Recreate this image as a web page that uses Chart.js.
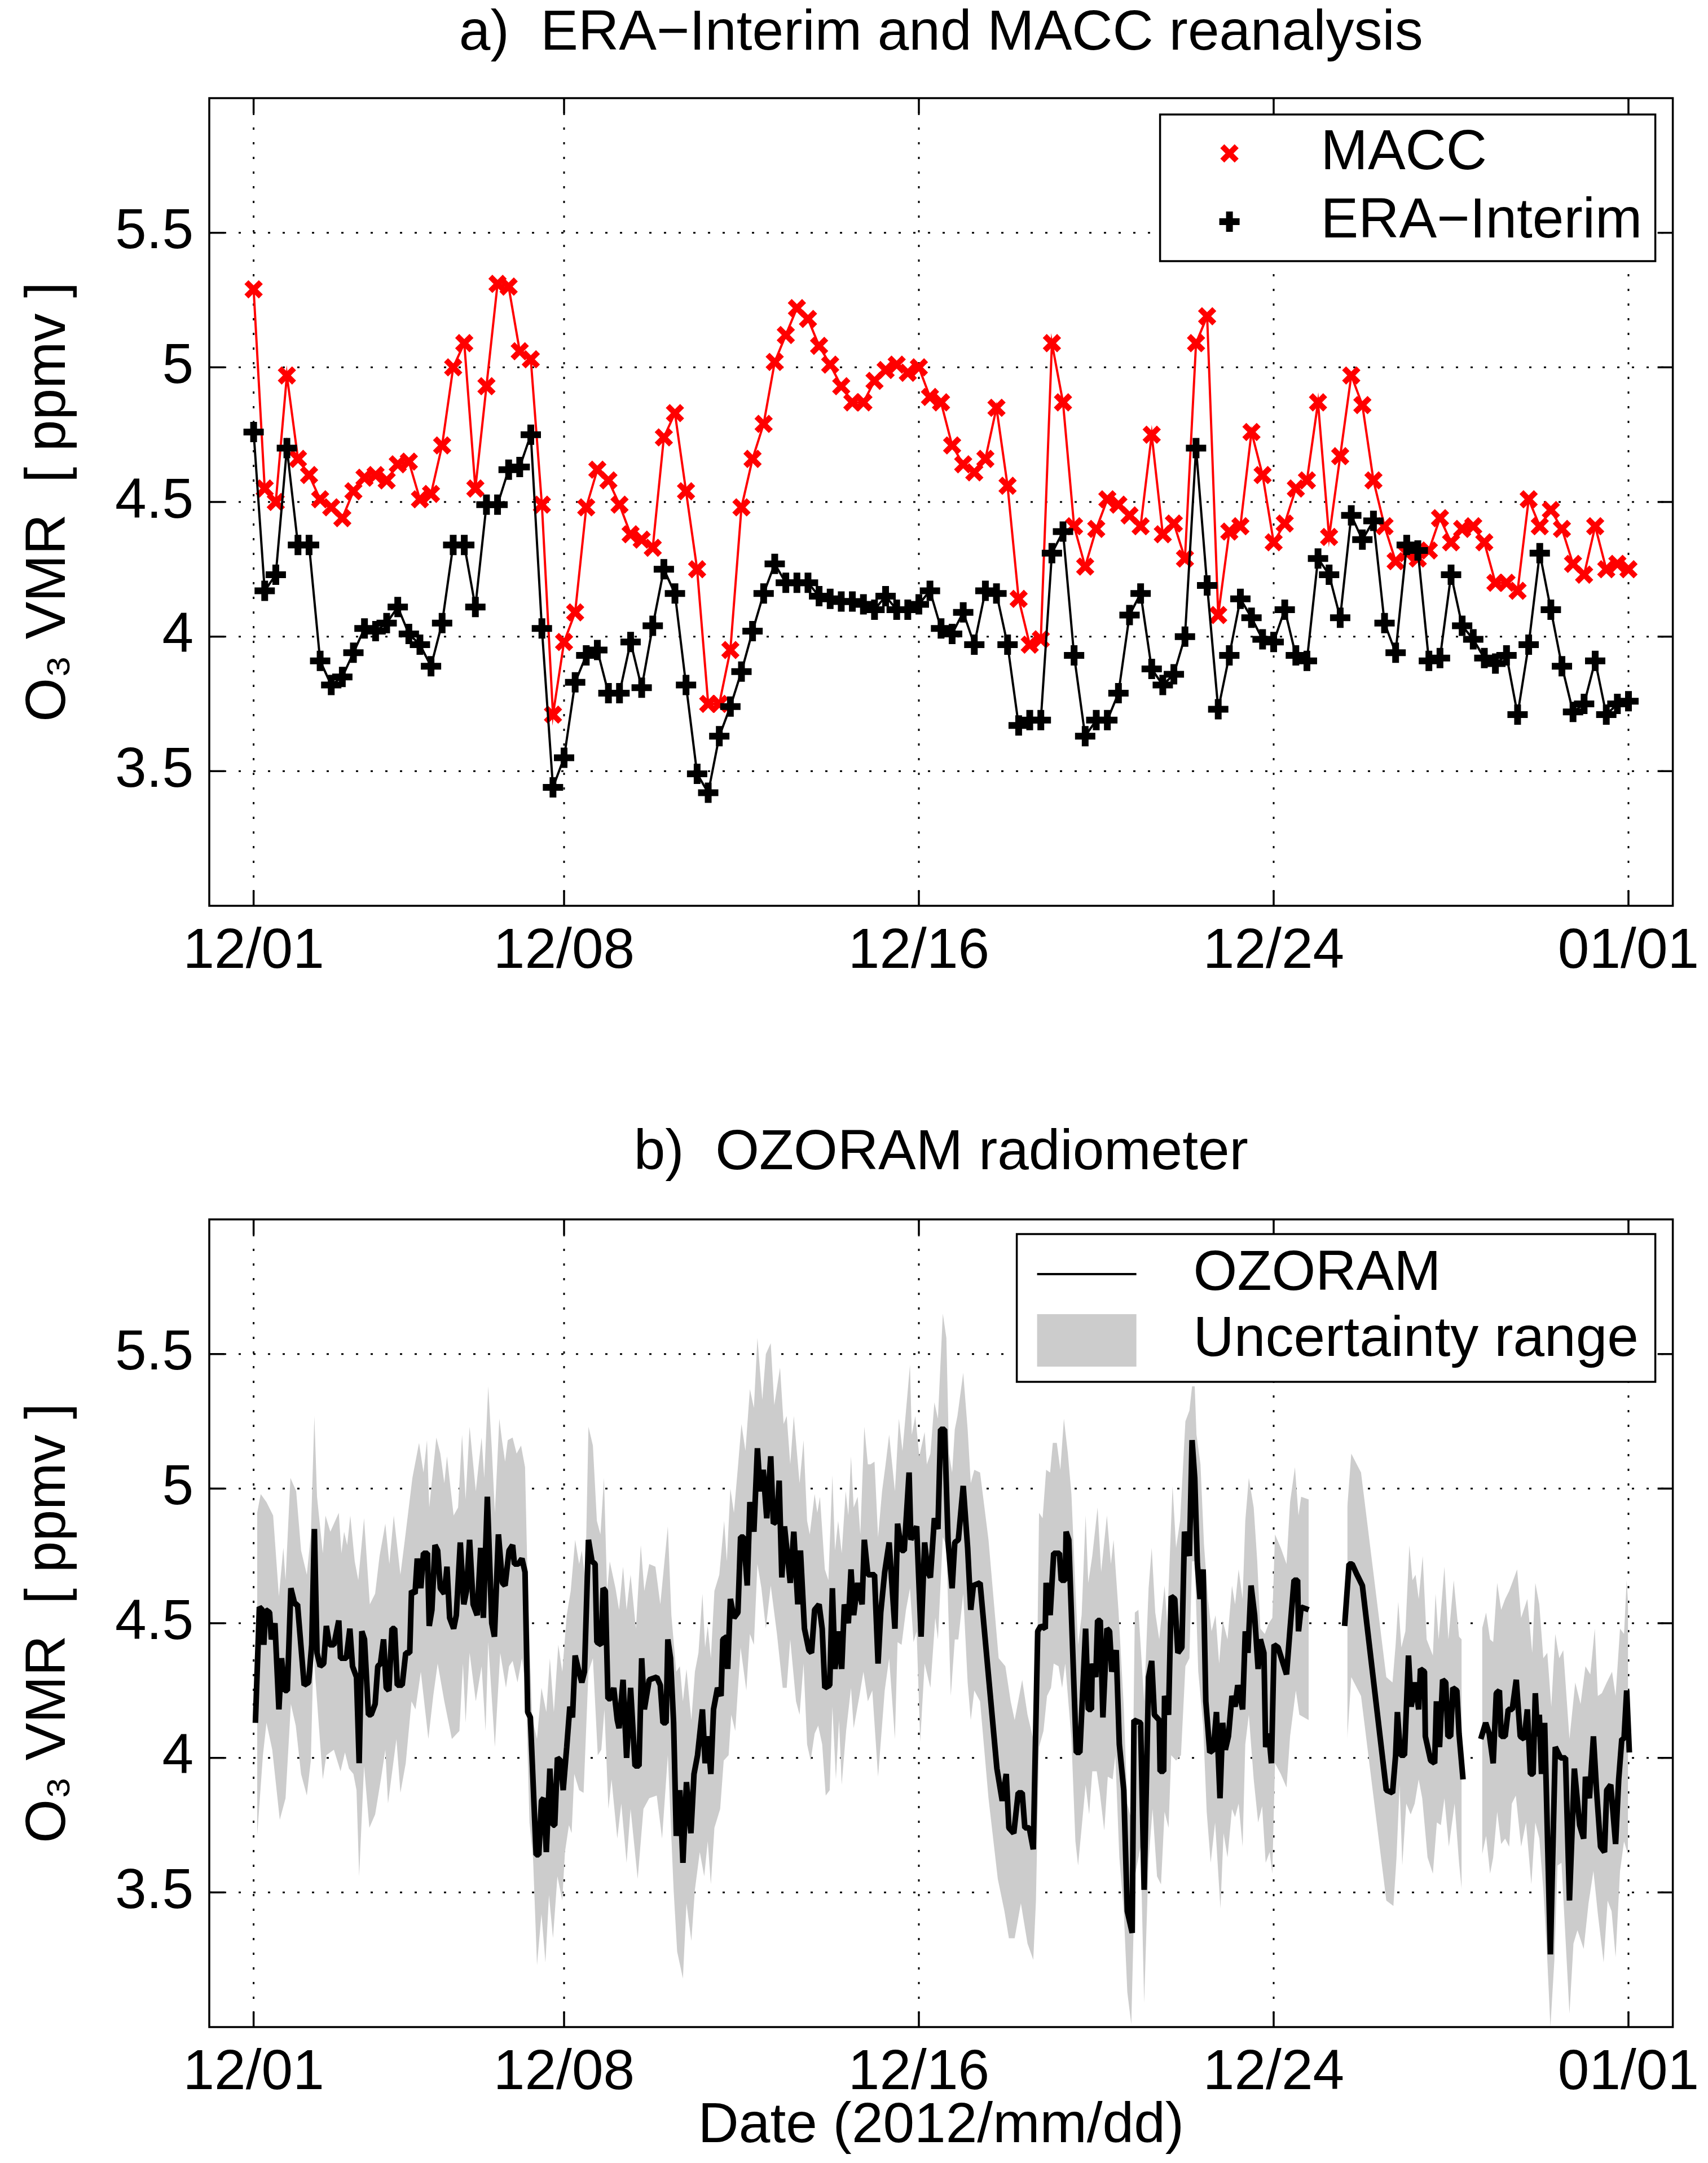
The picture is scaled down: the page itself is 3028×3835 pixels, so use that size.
<!DOCTYPE html>
<html><head><meta charset="utf-8">
<script src="https://cdn.jsdelivr.net/npm/chart.js@4.4.1/dist/chart.umd.min.js"></script>
<style>
html,body{margin:0;padding:0;background:#fff;}
#wrap{position:relative;width:3028px;height:3835px;background:#fff;overflow:hidden;}
canvas{position:absolute;left:0;}
</style></head><body>
<div id="wrap">
<canvas id="topChart" width="3028" height="1900" style="top:0px"></canvas>
<canvas id="botChart" width="3028" height="1935" style="top:1900px"></canvas>
</div>
<script>
// ---------- tick labels ----------
const xTickValues = [0, 7, 15, 23, 31];
const xTickLabels = ['12/01', '12/08', '12/16', '12/24', '01/01'];
const yTickValues = [3.5, 4, 4.5, 5, 5.5];
const yAxisTitle = 'O\u2083 VMR  [ ppmv ]';
const xAxisTitle = 'Date (2012/mm/dd)';
const titleTop = 'a)  ERA\u2212Interim and MACC reanalysis';
const titleBottom = 'b)  OZORAM radiometer';

// ---------- reanalysis (6-hourly, days since 2012-12-01) ----------
const reanalysisTime = [
 0,0.25,0.5,0.75, 1,1.25,1.5,1.75, 2,2.25,2.5,2.75, 3,3.25,3.5,3.75,
 4,4.25,4.5,4.75, 5,5.25,5.5,5.75, 6,6.25,6.5,6.75, 7,7.25,7.5,7.75,
 8,8.25,8.5,8.75, 9,9.25,9.5,9.75, 10,10.25,10.5,10.75, 11,11.25,11.5,11.75,
 12,12.25,12.5,12.75, 13,13.25,13.5,13.75, 14,14.25,14.5,14.75, 15,15.25,15.5,15.75,
 16,16.25,16.5,16.75, 17,17.25,17.5,17.75, 18,18.25,18.5,18.75, 19,19.25,19.5,19.75,
 20,20.25,20.5,20.75, 21,21.25,21.5,21.75, 22,22.25,22.5,22.75, 23,23.25,23.5,23.75,
 24,24.25,24.5,24.75, 25,25.25,25.5,25.75, 26,26.25,26.5,26.75, 27,27.25,27.5,27.75,
 28,28.25,28.5,28.75, 29,29.25,29.5,29.75, 30,30.25,30.5,30.75, 31
];
const maccValues = [
 5.29,4.55,4.50,4.97, 4.66,4.60,4.51,4.48, 4.44,4.54,4.59,4.60, 4.58,4.64,4.65,4.51,
 4.53,4.71,5.00,5.09, 4.55,4.93,5.31,5.30, 5.06,5.03,4.49,3.71, 3.98,4.09,4.48,4.62,
 4.58,4.49,4.38,4.36, 4.33,4.74,4.83,4.54, 4.25,3.75,3.75,3.95, 4.48,4.66,4.79,5.02,
 5.12,5.22,5.18,5.08, 5.01,4.93,4.87,4.87, 4.95,4.99,5.01,4.98, 5.00,4.89,4.87,4.71,
 4.64,4.61,4.66,4.85, 4.56,4.14,3.97,3.99, 5.09,4.87,4.41,4.26, 4.40,4.51,4.49,4.45,
 4.41,4.75,4.38,4.42, 4.29,5.09,5.19,4.08, 4.39,4.41,4.76,4.60, 4.35,4.42,4.55,4.58,
 4.87,4.37,4.67,4.97, 4.86,4.58,4.41,4.28, 4.31,4.29,4.32,4.44, 4.35,4.40,4.41,4.35,
 4.20,4.20,4.17,4.51, 4.41,4.47,4.40,4.27, 4.23,4.41,4.25,4.27, 4.25
];
const eraValues = [
 4.76,4.17,4.23,4.70, 4.34,4.34,3.91,3.82, 3.85,3.94,4.03,4.02, 4.05,4.11,4.01,3.97,
 3.89,4.05,4.34,4.34, 4.11,4.49,4.49,4.62, 4.63,4.75,4.03,3.44, 3.55,3.83,3.93,3.95,
 3.79,3.79,3.98,3.81, 4.04,4.25,4.16,3.82, 3.49,3.42,3.63,3.74, 3.87,4.02,4.16,4.27,
 4.20,4.20,4.20,4.15, 4.14,4.13,4.13,4.12, 4.10,4.15,4.10,4.10, 4.12,4.17,4.03,4.01,
 4.09,3.97,4.17,4.16, 3.97,3.67,3.69,3.69, 4.31,4.39,3.93,3.63, 3.69,3.69,3.79,4.08,
 4.16,3.88,3.82,3.86, 4.00,4.70,4.19,3.73, 3.93,4.14,4.07,3.99, 3.98,4.10,3.93,3.91,
 4.29,4.23,4.07,4.45, 4.36,4.43,4.05,3.94, 4.34,4.32,3.91,3.92, 4.23,4.04,3.99,3.92,
 3.90,3.93,3.71,3.97, 4.31,4.10,3.89,3.72, 3.75,3.91,3.71,3.75, 3.76
];

// ---------- OZORAM radiometer (days since 2012-12-01; null = no data) ----------
const ozTime = [
 0.04,0.13,0.19,0.23,0.27,0.36,0.40,0.48,0.57,0.63,
 0.70,0.76,0.84,0.93,0.99,1.14,1.24,1.31,1.37,1.43,
 1.50,1.58,1.64,1.71,1.81,1.92,1.96,2.09,2.17,2.23,
 2.32,2.38,2.44,2.50,2.59,2.65,2.74,2.80,2.86,2.93,
 2.99,3.05,3.12,3.18,3.24,3.35,3.43,3.52,3.56,3.64,
 3.69,3.77,3.83,3.92,3.96,4.02,4.09,4.15,4.21,4.30,
 4.36,4.42,4.51,4.57,4.66,4.74,4.80,4.87,4.95,5.04,
 5.12,5.18,5.27,5.37,5.43,5.52,5.61,5.67,5.76,5.84,
 5.88,5.97,6.05,6.12,6.18,6.24,6.37,6.43,6.49,6.54,
 6.60,6.68,6.75,6.79,6.85,6.92,6.98,7.06,7.13,7.19,
 7.25,7.32,7.40,7.46,7.55,7.63,7.70,7.74,7.84,7.88,
 7.93,7.99,8.05,8.12,8.20,8.24,8.33,8.41,8.50,8.60,
 8.69,8.75,8.81,8.92,9.09,9.17,9.23,9.30,9.34,9.40,
 9.47,9.53,9.61,9.68,9.76,9.86,9.93,10.01,10.12,10.18,
 10.24,10.31,10.37,10.46,10.54,10.58,10.67,10.69,10.75,10.83,
 10.92,10.98,11.05,11.13,11.19,11.28,11.36,11.42,11.49,11.57,
 11.66,11.72,11.80,11.85,11.91,11.97,12.10,12.18,12.27,12.33,
 12.42,12.52,12.58,12.65,12.75,12.82,12.88,12.99,13.05,13.11,
 13.18,13.26,13.32,13.41,13.47,13.53,13.62,13.72,13.77,13.85,
 13.93,14.00,14.08,14.14,14.23,14.33,14.46,14.52,14.61,14.67,
 14.78,14.82,14.95,15.05,15.13,15.20,15.26,15.35,15.43,15.49,
 15.58,15.66,15.75,15.81,15.89,16.00,16.10,16.17,16.23,16.38,
 16.76,16.88,16.97,17.03,17.14,17.24,17.33,17.39,17.49,17.58,
 17.68,17.75,17.85,17.87,17.96,18.04,18.17,18.21,18.30,18.32,
 18.38,18.55,18.63,18.76,18.82,18.89,18.91,18.99,19.03,19.09,
 19.15,19.24,19.30,19.35,19.45,19.52,19.62,19.70,19.81,19.85,
 20.00,20.08,20.18,20.25,20.31,20.42,20.44,20.52,20.54,20.63,
 20.69,20.77,20.84,20.93,20.99,21.10,21.16,21.22,21.28,21.34,
 21.41,21.47,21.56,21.64,21.71,21.79,21.85,21.91,21.98,22.06,
 22.13,22.19,22.30,22.36,22.42,22.49,22.57,22.65,22.70,22.78,
 22.82,22.89,22.95,23.01,23.10,23.29,23.37,23.46,23.54,23.56,
 23.62,23.79,24.20,24.60,24.70,24.77,24.88,25.00,25.54,25.68,
 25.75,25.79,25.86,25.95,26.04,26.10,26.19,26.27,26.31,26.40,
 26.42,26.54,26.63,26.67,26.74,26.81,26.88,26.93,26.99,27.04,
 27.13,27.18,27.27,27.45,27.67,27.78,27.86,27.95,28.02,28.09,
 28.13,28.22,28.29,28.38,28.47,28.56,28.65,28.72,28.79,28.85,
 28.90,28.95,28.99,29.04,29.11,29.24,29.35,29.47,29.58,29.67,
 29.78,29.90,29.99,30.03,30.12,30.21,30.28,30.37,30.46,30.51,
 30.60,30.71,30.78,30.85,30.90,30.96,31.02
];
const ozVmr = [
 4.13,4.56,4.55,4.42,4.55,4.54,4.44,4.50,4.18,4.37,
 4.25,4.25,4.63,4.57,4.57,4.27,4.28,4.42,4.85,4.39,
 4.34,4.35,4.49,4.42,4.42,4.51,4.37,4.37,4.48,4.34,
 4.30,3.98,4.47,4.44,4.16,4.16,4.20,4.34,4.35,4.44,
 4.26,4.25,4.48,4.48,4.27,4.27,4.39,4.39,4.62,4.61,
 4.74,4.63,4.76,4.76,4.49,4.55,4.79,4.77,4.63,4.61,
 4.71,4.52,4.48,4.53,4.80,4.57,4.62,4.81,4.57,4.53,
 4.78,4.52,4.97,4.50,4.45,4.83,4.65,4.64,4.77,4.79,
 4.72,4.72,4.74,4.69,4.17,4.15,3.64,3.64,3.84,3.85,
 3.65,3.96,3.75,3.75,4.00,3.99,3.88,4.04,4.19,4.15,
 4.38,4.33,4.28,4.32,4.81,4.73,4.72,4.43,4.42,4.63,
 4.62,4.22,4.22,4.26,4.14,4.11,4.29,4.00,4.26,3.97,
 3.97,4.37,4.18,4.29,4.30,4.27,4.13,4.13,4.44,4.37,
 4.13,3.71,3.88,3.61,3.91,3.72,3.94,4.01,4.18,3.98,
 4.08,3.94,4.18,4.26,4.23,4.44,4.45,4.33,4.59,4.52,
 4.54,4.82,4.82,4.64,4.95,4.84,5.15,4.99,5.07,4.89,
 5.12,4.87,4.88,5.03,4.67,4.86,4.65,4.84,4.57,4.77,
 4.48,4.40,4.39,4.55,4.57,4.48,4.26,4.27,4.63,4.33,
 4.47,4.33,4.57,4.50,4.70,4.53,4.65,4.57,4.81,4.68,
 4.68,4.68,4.35,4.54,4.69,4.80,4.48,4.87,4.77,4.77,
 5.06,4.81,4.86,4.45,4.80,4.69,4.67,4.89,4.85,5.22,
 5.22,4.80,4.63,4.80,4.81,5.01,4.78,4.55,4.64,4.65,
 3.96,3.84,3.94,3.74,3.72,3.87,3.87,3.74,3.74,3.66,
 4.47,4.49,4.48,4.65,4.53,4.76,4.76,4.66,4.66,4.84,
 4.81,4.02,4.02,4.48,4.18,4.18,4.35,4.30,4.51,4.51,
 4.15,4.48,4.47,4.32,4.40,4.05,3.88,3.43,3.35,4.14,
 4.13,3.51,4.30,4.36,4.16,4.14,3.95,3.95,4.23,4.16,
 4.60,4.59,4.39,4.41,4.84,4.75,5.18,5.04,4.72,4.59,
 4.70,4.21,4.02,4.03,4.17,3.85,4.13,4.03,4.08,4.23,
 4.19,4.27,4.18,4.47,4.39,4.64,4.53,4.33,4.44,4.39,
 4.04,4.09,3.98,4.42,4.41,4.31,4.48,4.66,4.66,4.47,
 4.56,4.55,null,4.49,4.72,4.72,4.68,4.64,3.88,3.87,
 4.01,4.17,4.01,4.01,4.38,4.19,4.28,4.18,4.33,4.32,
 4.08,3.99,3.98,4.21,4.04,4.29,4.28,4.08,4.08,4.26,
 4.25,4.09,3.92,null,4.07,4.13,4.09,3.98,4.24,4.25,
 4.08,4.08,4.18,4.18,4.29,4.08,4.07,4.18,3.94,3.94,
 4.24,4.08,4.16,3.94,4.13,3.27,4.04,4.00,4.00,3.47,
 3.96,3.75,3.70,3.93,3.85,4.08,3.88,3.67,3.65,3.88,
 3.90,3.68,3.92,4.07,4.07,4.25,4.02
];
const bandHighTime = [
 0.08,0.16,0.29,0.44,0.57,0.67,0.72,0.83,0.96,1.07,
 1.20,1.29,1.37,1.43,1.56,1.62,1.73,1.92,1.98,2.04,
 2.11,2.18,2.28,2.36,2.49,2.62,2.74,2.84,2.97,3.06,
 3.16,3.31,3.41,3.58,3.73,3.83,3.91,3.96,4.12,4.21,
 4.30,4.36,4.51,4.61,4.70,4.78,4.87,5.01,5.14,5.20,
 5.29,5.37,5.44,5.54,5.60,5.67,5.73,5.84,5.93,6.03,
 6.12,6.18,6.28,6.39,6.49,6.60,6.68,6.77,6.87,6.96,
 7.06,7.15,7.25,7.34,7.40,7.48,7.55,7.65,7.74,7.82,
 7.90,7.97,8.03,8.16,8.24,8.33,8.41,8.50,8.62,8.73,
 8.81,8.92,9.06,9.17,9.34,9.42,9.53,9.61,9.68,9.76,
 9.87,9.95,10.03,10.12,10.18,10.24,10.31,10.39,10.50,10.61,
 10.67,10.75,10.83,10.92,11.00,11.09,11.19,11.28,11.36,11.47,
 11.55,11.66,11.74,11.87,11.95,12.02,12.10,12.18,12.31,12.40,
 12.48,12.54,12.65,12.71,12.77,12.88,12.96,13.05,13.11,13.18,
 13.26,13.35,13.41,13.47,13.53,13.62,13.68,13.77,13.85,13.91,
 14.00,14.08,14.17,14.25,14.33,14.46,14.55,14.63,14.71,14.80,
 14.84,14.92,15.01,15.13,15.18,15.26,15.35,15.43,15.54,15.62,
 15.68,15.75,15.81,15.87,16.00,16.10,16.17,16.25,16.38,16.57,
 16.80,16.95,17.07,17.16,17.33,17.45,17.58,17.64,17.71,17.79,
 17.87,17.96,18.02,18.11,18.19,18.27,18.36,18.44,18.53,18.59,
 18.67,18.76,18.82,18.91,19.03,19.11,19.24,19.33,19.39,19.50,
 19.62,19.70,19.81,19.87,19.95,20.08,20.18,20.25,20.33,20.42,
 20.54,20.60,20.72,20.80,20.89,21.01,21.10,21.16,21.22,21.26,
 21.35,21.43,21.52,21.60,21.69,21.77,21.85,21.96,22.06,22.13,
 22.21,22.30,22.36,22.44,22.55,22.63,22.70,22.80,22.89,22.97,
 23.03,23.16,23.29,23.37,23.48,23.56,23.62,23.79,24.20,24.66,
 24.75,24.97,25.54,25.68,25.75,25.81,25.88,25.97,26.06,26.13,
 26.20,26.27,26.36,26.45,26.59,26.65,26.72,26.85,26.94,27.06,
 27.18,27.24,27.45,27.70,27.79,27.88,27.95,28.04,28.13,28.22,
 28.31,28.40,28.49,28.58,28.72,28.83,28.90,28.99,29.08,29.17,
 29.26,29.35,29.44,29.53,29.67,29.80,29.92,30.03,30.14,30.24,
 30.31,30.40,30.51,30.63,30.71,30.81,30.90,30.96,31.01
];
const bandHighVmr = [
 4.91,4.98,4.95,4.90,4.60,4.78,4.66,5.04,4.99,4.77,
 4.68,4.83,5.27,4.97,4.76,4.90,4.84,4.91,4.76,4.84,
 4.79,4.90,4.73,4.66,4.89,4.57,4.61,4.75,4.87,4.72,
 4.90,4.68,4.81,5.04,5.17,5.06,5.18,4.93,5.19,5.13,
 5.02,5.12,4.90,4.93,5.20,4.96,5.23,4.99,5.19,5.04,
 5.38,5.15,4.91,5.26,5.18,5.10,5.18,5.19,5.13,5.16,
 5.08,4.64,4.15,4.07,4.26,4.17,4.37,4.17,4.42,4.32,
 4.53,4.62,4.81,4.72,4.77,4.66,5.23,5.16,4.88,4.83,
 5.04,4.62,4.73,4.63,4.55,4.71,4.55,4.68,4.48,4.79,
 4.62,4.72,4.71,4.57,4.86,4.53,4.32,4.34,4.21,4.33,
 4.14,4.32,4.39,4.61,4.41,4.49,4.37,4.62,4.68,4.88,
 4.73,5.00,4.91,5.08,5.24,5.14,5.37,5.30,5.56,5.33,
 5.50,5.54,5.31,5.45,5.24,5.27,5.09,5.27,5.02,5.18,
 4.88,4.83,4.98,4.91,4.97,4.70,4.66,5.05,4.77,4.88,
 4.76,4.99,4.90,5.12,4.93,4.97,4.83,5.23,5.09,5.09,
 5.10,4.82,4.99,5.09,5.20,4.99,5.26,5.14,5.29,5.46,
 5.20,5.27,5.12,5.21,5.09,5.13,5.32,5.26,5.65,5.56,
 5.13,5.06,5.22,5.27,5.43,5.22,5.02,5.07,5.06,4.81,
 4.37,4.34,4.21,4.14,4.29,4.16,4.07,4.00,4.91,4.89,
 5.07,5.06,5.17,5.17,5.07,5.26,5.13,4.98,4.63,4.42,
 4.53,4.90,4.65,4.75,4.93,4.69,4.90,4.72,4.81,4.55,
 4.19,3.83,3.76,4.54,4.55,4.21,4.63,4.78,4.54,4.44,
 4.64,4.50,5.01,4.78,4.88,5.25,5.29,5.38,5.38,5.20,
 5.09,4.79,4.59,4.47,4.53,4.35,4.51,4.44,4.64,4.57,
 4.70,4.59,4.88,5.04,4.93,4.73,4.48,4.46,4.50,4.52,
 4.83,4.78,4.72,4.95,5.08,4.90,4.97,4.96,null,4.93,
 5.13,5.06,4.30,4.28,4.42,4.58,4.41,4.47,4.79,4.66,
 4.68,4.59,4.75,4.44,4.38,4.61,4.44,4.71,4.44,4.66,
 4.45,4.44,null,4.48,4.54,4.44,4.43,4.65,4.55,4.59,
 4.62,4.66,4.70,4.52,4.59,4.39,4.65,4.57,4.37,4.39,
 4.19,4.46,4.37,4.40,4.07,4.28,4.20,4.34,4.31,4.48,
 4.23,4.24,4.28,4.32,4.23,4.48,4.46,4.66,4.52
];
const bandLowTime = [
 0.08,0.21,0.29,0.42,0.59,0.72,0.84,0.95,1.07,1.20,
 1.29,1.35,1.56,1.64,1.81,1.96,2.06,2.15,2.25,2.32,
 2.38,2.49,2.61,2.74,2.87,2.97,3.03,3.22,3.31,3.43,
 3.56,3.65,3.77,3.94,4.05,4.15,4.30,4.47,4.64,4.72,
 4.78,4.87,5.01,5.14,5.23,5.29,5.44,5.56,5.69,5.76,
 5.84,5.95,6.05,6.14,6.22,6.30,6.39,6.49,6.58,6.66,
 6.75,6.85,6.96,7.02,7.11,7.17,7.23,7.34,7.44,7.55,
 7.65,7.76,7.84,7.91,8.00,8.07,8.20,8.29,8.41,8.50,
 8.66,8.79,8.92,9.09,9.21,9.34,9.47,9.55,9.68,9.76,
 9.87,9.95,10.06,10.16,10.24,10.31,10.39,10.52,10.60,10.71,
 10.77,10.86,10.98,11.11,11.19,11.28,11.36,11.45,11.55,11.66,
 11.80,11.93,12.02,12.10,12.23,12.31,12.40,12.48,12.56,12.65,
 12.73,12.82,12.90,12.99,13.05,13.13,13.20,13.26,13.36,13.47,
 13.53,13.66,13.75,13.85,13.95,14.08,14.17,14.23,14.33,14.46,
 14.52,14.61,14.71,14.80,14.88,14.95,15.03,15.13,15.26,15.37,
 15.43,15.54,15.62,15.72,15.81,15.89,16.00,16.10,16.17,16.25,
 16.38,16.57,16.78,16.93,17.03,17.16,17.30,17.45,17.58,17.64,
 17.71,17.81,17.89,17.98,18.04,18.15,18.23,18.30,18.36,18.44,
 18.53,18.59,18.67,18.76,18.84,18.91,19.01,19.08,19.18,19.26,
 19.37,19.43,19.52,19.62,19.70,19.79,19.87,20.00,20.08,20.18,
 20.27,20.37,20.46,20.54,20.63,20.69,20.80,20.91,21.01,21.10,
 21.16,21.22,21.30,21.41,21.49,21.58,21.68,21.80,21.87,21.96,
 22.06,22.13,22.21,22.30,22.36,22.44,22.55,22.65,22.74,22.82,
 22.91,22.97,23.03,23.16,23.29,23.37,23.50,23.58,23.79,24.20,
 24.66,24.75,24.97,25.54,25.70,25.77,25.84,25.90,25.99,26.09,
 26.18,26.27,26.35,26.47,26.59,26.68,26.77,26.85,26.95,27.08,
 27.18,27.24,27.45,27.70,27.79,27.88,27.95,28.04,28.13,28.22,
 28.31,28.37,28.46,28.58,28.69,28.81,28.90,28.99,29.08,29.17,
 29.24,29.33,29.40,29.49,29.58,29.67,29.76,29.85,29.99,30.10,
 30.21,30.31,30.44,30.53,30.62,30.71,30.81,30.90,30.99
];
const bandLowVmr = [
 3.71,4.01,4.13,4.03,3.77,3.85,4.20,4.12,3.94,3.86,
 3.99,4.39,3.92,4.01,4.03,3.95,4.02,3.96,3.94,3.88,
 3.56,3.97,3.74,3.79,3.92,4.03,3.83,4.07,3.87,3.98,
 4.21,4.18,4.32,4.07,4.23,4.35,4.21,4.07,4.10,4.35,
 4.13,4.39,4.21,4.34,4.10,4.43,4.04,4.39,4.26,4.34,
 4.36,4.28,4.37,4.26,3.76,3.63,3.23,3.42,3.24,3.49,
 3.33,3.56,3.47,3.65,3.75,3.72,3.94,3.88,3.87,4.32,
 4.37,4.01,4.03,4.18,3.81,3.92,3.70,3.83,3.61,3.81,
 3.55,3.81,3.85,3.86,3.70,4.01,3.51,3.28,3.18,3.46,
 3.32,3.51,3.65,3.56,3.69,3.53,3.74,3.81,3.99,4.01,
 4.16,4.10,4.41,4.25,4.46,4.42,4.72,4.63,4.48,4.64,
 4.46,4.26,4.26,4.44,4.21,4.16,4.35,4.05,3.99,4.09,
 4.12,4.05,3.86,3.88,4.19,3.92,4.14,3.90,4.10,4.26,
 4.11,4.23,4.32,4.21,4.25,3.93,4.12,4.25,4.37,4.07,
 4.43,4.42,4.55,4.63,4.43,4.47,4.06,4.35,4.26,4.52,
 4.44,4.82,4.79,4.23,4.44,4.44,4.61,4.28,4.14,4.25,
 4.21,3.85,3.55,3.43,3.33,3.33,3.46,3.31,3.25,3.47,
 4.04,4.10,4.23,4.26,4.35,4.34,4.26,4.35,4.23,4.07,
 3.69,3.60,3.74,3.90,3.79,3.95,3.95,3.87,3.73,3.93,
 3.92,4.01,3.63,3.43,3.13,3.01,3.56,3.67,3.09,3.62,
 3.81,3.56,3.53,3.80,3.74,4.01,3.99,4.01,4.34,4.37,
 4.73,4.73,4.32,4.12,3.80,3.61,3.76,3.44,3.72,3.63,
 3.81,3.78,3.83,3.67,4.05,4.16,3.92,3.76,3.82,3.61,
 3.65,3.57,3.98,3.94,3.89,4.08,4.25,4.16,4.14,null,
 4.07,4.30,4.23,3.47,3.45,3.63,3.90,3.60,3.83,3.79,
 3.83,3.92,3.85,3.63,3.57,3.76,3.75,3.85,3.67,3.83,
 3.61,3.51,null,3.64,3.71,3.57,3.63,3.80,3.68,3.70,
 3.67,3.83,3.86,3.67,3.76,3.53,3.76,3.70,3.51,3.25,
 3.00,3.25,3.60,3.61,3.33,3.05,3.31,3.36,3.29,3.46,
 3.58,3.42,3.24,3.47,3.43,3.26,3.58,3.69,3.64
];

// ---------- helpers ----------
const pts = (xs, ys) => xs.map((x, i) => ({ x: x, y: ys[i] }));
const FONT = "'Liberation Sans', Arial, Helvetica, sans-serif";
Chart.defaults.font.family = FONT;
Chart.defaults.font.size = 100;
Chart.defaults.color = '#000';

function xScaleCfg(height, withTitle) {
  return {
    type: 'linear', min: -1, max: 32,
    afterBuildTicks: s => { s.ticks = xTickValues.map(v => ({ value: v })); },
    ticks: { callback: (v, i) => xTickLabels[i], padding: 14, maxRotation: 0, minRotation: 0, autoSkip: false, color: '#000', font: { size: 100 } },
    grid: { display: false }, border: { display: false },
    title: withTitle ? { display: true, text: xAxisTitle, color: '#000', font: { size: 100 }, padding: { top: 0, bottom: 5 } } : { display: false },
    afterFit: s => { s.height = height; }
  };
}
function yScaleCfg() {
  return {
    type: 'linear', min: 3, max: 6,
    afterBuildTicks: s => { s.ticks = yTickValues.map(v => ({ value: v })); },
    ticks: { callback: v => String(v), padding: 20, autoSkip: false, color: '#000', font: { size: 100 } },
    grid: { display: false }, border: { display: false },
    title: { display: true, text: yAxisTitle, color: '#000', font: { size: 100 }, padding: { top: 27, bottom: 0 } },
    afterFit: s => { s.width = 371; }
  };
}

const gridPlugin = {
  id: 'dottedGrid',
  beforeDatasetsDraw(chart) {
    const { ctx, chartArea: a, scales: { x, y } } = chart;
    ctx.save();
    ctx.strokeStyle = '#000'; ctx.lineWidth = 3; ctx.setLineDash([4, 22]);
    xTickValues.forEach(v => { const p = x.getPixelForValue(v); ctx.beginPath(); ctx.moveTo(p, a.top); ctx.lineTo(p, a.bottom); ctx.stroke(); });
    yTickValues.forEach(v => { const p = y.getPixelForValue(v); ctx.beginPath(); ctx.moveTo(a.left, p); ctx.lineTo(a.right, p); ctx.stroke(); });
    ctx.restore();
  }
};
const framePlugin = {
  id: 'axesBox',
  afterDatasetsDraw(chart) {
    const { ctx, chartArea: a, scales: { x, y } } = chart;
    const tl = 27;
    ctx.save();
    ctx.strokeStyle = '#000'; ctx.lineWidth = 3.5; ctx.setLineDash([]);
    ctx.strokeRect(a.left, a.top, a.right - a.left, a.bottom - a.top);
    ctx.beginPath();
    xTickValues.forEach(v => { const p = x.getPixelForValue(v);
      ctx.moveTo(p, a.bottom); ctx.lineTo(p, a.bottom - tl);
      ctx.moveTo(p, a.top); ctx.lineTo(p, a.top + tl); });
    yTickValues.forEach(v => { const p = y.getPixelForValue(v);
      ctx.moveTo(a.left, p); ctx.lineTo(a.left + tl, p);
      ctx.moveTo(a.right, p); ctx.lineTo(a.right - tl, p); });
    ctx.stroke();
    ctx.restore();
  }
};
function legendPlugin(box, entries) {
  return {
    id: 'boxLegend',
    afterDraw(chart) {
      const { ctx, chartArea: a } = chart;
      const bx = a.right - box.dr, by = a.top + box.dt;
      ctx.save();
      ctx.fillStyle = '#fff'; ctx.fillRect(bx, by, box.w, box.h);
      ctx.strokeStyle = '#000'; ctx.lineWidth = 3.5; ctx.strokeRect(bx, by, box.w, box.h);
      entries.forEach(e => {
        const ds = chart.data.datasets[e.index];
        const cy = by + e.dy;
        if (e.kind === 'marker') {
          ctx.strokeStyle = ds.pointBorderColor; ctx.lineWidth = ds.pointBorderWidth;
          Chart.helpers.drawPoint(ctx, { pointStyle: ds.pointStyle, radius: ds.pointRadius, rotation: 0, borderWidth: ds.pointBorderWidth }, bx + box.mx, cy);
        } else if (e.kind === 'line') {
          ctx.strokeStyle = ds.borderColor; ctx.lineWidth = 4;
          ctx.beginPath(); ctx.moveTo(bx + box.sx0, cy); ctx.lineTo(bx + box.sx1, cy); ctx.stroke();
        } else {
          ctx.fillStyle = ds.backgroundColor;
          ctx.fillRect(bx + box.sx0, cy - 46, box.sx1 - box.sx0, 93);
        }
        ctx.fillStyle = '#000'; ctx.font = '100px ' + FONT;
        ctx.textAlign = 'left'; ctx.textBaseline = 'middle';
        ctx.fillText(ds.label, bx + box.tx, cy);
      });
      ctx.restore();
    }
  };
}

// ---------- top chart ----------
new Chart(document.getElementById('topChart'), {
  type: 'line',
  data: {
    datasets: [
      { label: 'ERA\u2212Interim', data: pts(reanalysisTime, eraValues), borderColor: '#000', borderWidth: 4,
        pointStyle: 'cross', pointRadius: 18, pointHoverRadius: 18, pointBorderWidth: 12, pointBorderColor: '#000', pointBackgroundColor: '#000', fill: false, tension: 0 },
      { label: 'MACC', data: pts(reanalysisTime, maccValues), borderColor: '#ff0000', borderWidth: 4,
        pointStyle: 'crossRot', pointRadius: 18, pointHoverRadius: 18, pointBorderWidth: 10, pointBorderColor: '#ff0000', pointBackgroundColor: '#ff0000', fill: false, tension: 0 }
    ]
  },
  options: {
    responsive: false, animation: false, devicePixelRatio: 1,
    layout: { padding: { left: 0, right: 54, top: 0, bottom: 0 } },
    scales: { x: xScaleCfg(294, false), y: yScaleCfg() },
    plugins: {
      legend: { display: false }, tooltip: { enabled: false },
      title: { display: true, text: titleTop, fullSize: false, color: '#000', font: { size: 100, weight: 'normal' }, padding: { top: 0, bottom: 54 } }
    }
  },
  plugins: [gridPlugin, framePlugin, legendPlugin(
    { dr: 909, dt: 29, w: 878, h: 260, mx: 123, tx: 285 },
    [ { index: 1, kind: 'marker', dy: 69 }, { index: 0, kind: 'marker', dy: 190 } ])]
});

// ---------- bottom chart ----------
new Chart(document.getElementById('botChart'), {
  type: 'line',
  data: {
    datasets: [
      { label: 'OZORAM', data: pts(ozTime, ozVmr), borderColor: '#000', borderWidth: 10, borderJoinStyle: 'bevel',
        pointRadius: 0, pointHoverRadius: 0, spanGaps: false, fill: false, tension: 0 },
      { label: 'Uncertainty range', data: pts(bandHighTime, bandHighVmr), borderColor: 'rgba(0,0,0,0)', borderWidth: 0,
        backgroundColor: '#cccccc', pointRadius: 0, pointHoverRadius: 0, spanGaps: false, fill: { target: 2 }, tension: 0 },
      { label: 'lower bound', data: pts(bandLowTime, bandLowVmr), borderColor: 'rgba(0,0,0,0)', borderWidth: 0,
        pointRadius: 0, pointHoverRadius: 0, spanGaps: false, fill: false, tension: 0 }
    ]
  },
  options: {
    responsive: false, animation: false, devicePixelRatio: 1,
    layout: { padding: { left: 0, right: 54, top: 0, bottom: 0 } },
    scales: { x: xScaleCfg(241, true), y: yScaleCfg() },
    plugins: {
      legend: { display: false }, tooltip: { enabled: false },
      title: { display: true, text: titleBottom, fullSize: false, color: '#000', font: { size: 100, weight: 'normal' }, padding: { top: 85, bottom: 57 } }
    }
  },
  plugins: [gridPlugin, framePlugin, legendPlugin(
    { dr: 1163, dt: 26, w: 1132, h: 262, sx0: 36, sx1: 212, tx: 313 },
    [ { index: 0, kind: 'line', dy: 71 }, { index: 1, kind: 'box', dy: 188 } ])]
});
</script>
</body></html>
